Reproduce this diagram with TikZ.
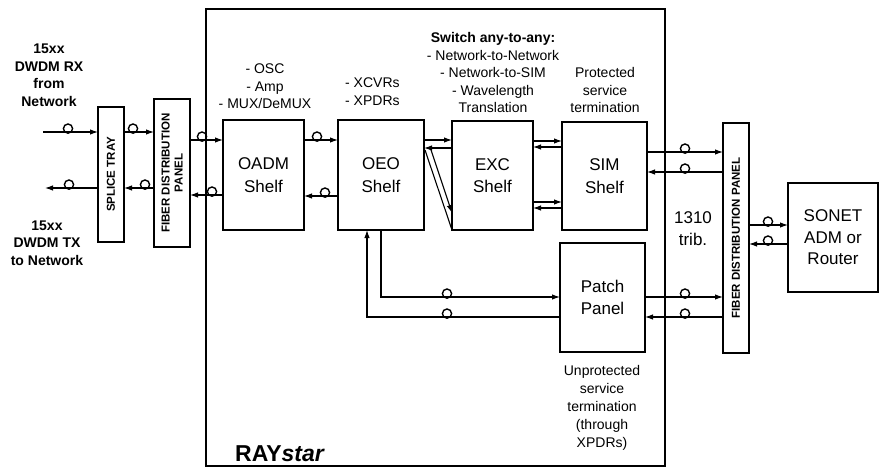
\documentclass[tikz,border=0pt]{standalone}
\usepackage{fontspec}
\setmainfont{Liberation Sans}
\usetikzlibrary{arrows.meta,calc}
\newcommand{\ml}[1]{\begin{tabular}[t]{@{}c@{}}#1\end{tabular}}
\newcommand{\floop}[1]{\draw[loopst] (#1) ++(0,-3.4) circle[radius=4.6pt];}
\begin{document}
\begin{tikzpicture}[x=1pt,y=-1pt,
  box/.style={draw,line width=1.3pt,inner sep=0pt,outer sep=0pt,align=center},
  fib/.style={line width=1.1pt},
  arr/.style={fib,-{Latex[length=8pt,width=5.5pt]}},
  loopst/.style={line width=1.4pt},
  small/.style={inner sep=0pt,anchor=base,font=\fontsize{14}{17.5}\selectfont},
  smallb/.style={small,font=\bfseries\fontsize{14}{17.5}\selectfont},
  bigf/.style={font=\fontsize{17}{22.5}\selectfont},
  rot/.style={rotate=90,inner sep=0pt,align=center,font=\bfseries\fontsize{11.5}{13}\selectfont},
]
\useasboundingbox (0,0) rectangle (880,468);

% main enclosure
\node[box,minimum width=459pt,minimum height=457pt] (ray) at (435.5,237.5) {};
\node[anchor=base west,inner sep=0pt,font=\bfseries\fontsize{23}{26}\selectfont] (rayT) at (235,461) {RAY\textit{star}};

% boxes
\node[box,minimum width=26pt,minimum height=135pt] (splice) at (111,174.5) {};
\node[box,minimum width=36pt,minimum height=148pt] (fdpL) at (172,173) {};
\node[box,bigf,minimum width=81pt,minimum height=110pt] (oadm) at (263.5,175) {OADM\\Shelf};
\node[box,bigf,minimum width=86pt,minimum height=110pt] (oeo) at (381,175) {OEO\\Shelf};
\node[box,bigf,minimum width=81pt,minimum height=109pt] (exc) at (492.5,175.5) {EXC\\Shelf};
\node[box,bigf,minimum width=85pt,minimum height=108pt] (sim) at (604.5,176) {SIM\\Shelf};
\node[box,bigf,minimum width=85pt,minimum height=109pt] (patch) at (602.5,297.5) {Patch\\Panel};
\node[box,minimum width=26pt,minimum height=230pt] (fdpR) at (736,238) {};
\node[box,font=\fontsize{17}{21.5}\selectfont,minimum width=90pt,minimum height=109pt] (sonet) at (833,237.5) {SONET\\ADM or\\Router};

% rotated labels
\node[rot] (spliceT) at (splice.center) {SPLICE TRAY};
\node[rot] (fdpLT) at (fdpL.center) {FIBER DISTRIBUTION\\PANEL};
\node[rot] (fdpRT) at (fdpR.center) {FIBER DISTRIBUTION PANEL};

% texts
\node[smallb] (rxT) at (49,54) {\ml{15xx\\DWDM RX\\from\\Network}};
\node[smallb] (txT) at (47,230) {\ml{15xx\\DWDM TX\\to Network}};
\node[small] (oadmT) at (265,74) {\ml{- OSC\\- Amp\\- MUX/DeMUX}};
\node[small,anchor=base west] (oeoT) at (345,88) {\begin{tabular}[t]{@{}l@{}}- XCVRs\\- XPDRs\end{tabular}};
\node[small] (excT) at (493,43) {\ml{\textbf{Switch any-to-any:}\\- Network-to-Network\\- Network-to-SIM\\- Wavelength\\Translation}};
\node[small] (simT) at (605,78) {\ml{Protected\\service\\termination}};
\node[small,font=\fontsize{14}{18}\selectfont] (patchT) at (602,375) {\ml{Unprotected\\service\\termination\\(through\\XPDRs)}};
\node[inner sep=0pt,anchor=base,font=\fontsize{17}{22}\selectfont] (tribT) at (693,223) {\ml{1310\\trib.}};

% levels
\foreach \v in {132,140,141,147,148,152,172,188,195,196,202,208,213,225,244,297,317}
  \coordinate (L\v) at (0,\v);

% left side
\coordinate (rxin) at (43,132);
\coordinate (txout) at (45,188);
\draw[arr] (rxin) -- (splice.west |- rxin); \floop{68,132}
\draw[arr] (splice.east |- rxin) -- (fdpL.west |- rxin); \floop{133,132}
\draw[arr] (splice.west |- txout) -- (txout); \floop{69,188}
\draw[arr] (fdpL.west |- txout) -- (splice.east |- txout); \floop{145,188}

% fdpL - oadm
\draw[arr] (fdpL.east |- L140) -- (oadm.west |- L140); \floop{202,140}
\draw[arr] (oadm.west |- L195) -- (fdpL.east |- L195); \floop{212,195}

% oadm - oeo
\draw[arr] (oadm.east |- L140) -- (oeo.west |- L140); \floop{317,140}
\draw[arr] (oeo.west |- L196) -- (oadm.east |- L196); \floop{325,196}

% oeo - exc
\draw[arr] (oeo.east |- L140) -- (exc.west |- L140);
\draw[arr] (exc.west |- L148) -- (oeo.east |- L148);
\coordinate (dA) at (425,150);
\coordinate (dB) at (430,147);
\draw[fib] (dA) -- (exc.south west);
\draw[arr] (dB) -- (exc.west |- L213);

% exc - sim
\draw[arr] (exc.east |- L141) -- (sim.west |- L141);
\draw[arr] (sim.west |- L147) -- (exc.east |- L147);
\draw[arr] (exc.east |- L202) -- (sim.west |- L202);
\draw[arr] (sim.west |- L208) -- (exc.east |- L208);

% sim - fdpR
\draw[arr] (sim.east |- L152) -- (fdpR.west |- L152); \floop{685,152}
\draw[arr] (fdpR.west |- L172) -- (sim.east |- L172); \floop{685,172}

% fdpR - sonet
\draw[arr] (fdpR.east |- L225) -- (sonet.west |- L225); \floop{768,225}
\draw[arr] (sonet.west |- L244) -- (fdpR.east |- L244); \floop{768,244}

% patch - fdpR
\draw[arr] (patch.east |- L297) -- (fdpR.west |- L297); \floop{685,297}
\draw[arr] (fdpR.west |- L317) -- (patch.east |- L317); \floop{685,317}

% oeo - patch
\draw[arr] (oeo.south) |- (patch.west |- L297); \floop{447,297}
\draw[arr] (patch.west |- L317) -| ([xshift=-14pt]oeo.south); \floop{447,317}
\end{tikzpicture}
\end{document}
